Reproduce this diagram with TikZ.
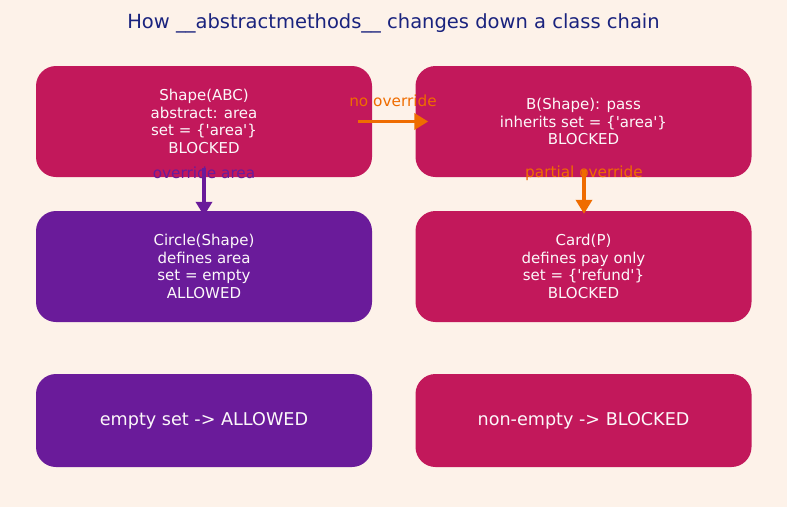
\documentclass[tikz,border=0pt]{standalone}
\usepackage{fontspec}
\setmainfont{DejaVu Sans}
\usetikzlibrary{arrows.meta}
\definecolor{bgc}{RGB}{253,242,233}
\definecolor{crim}{RGB}{194,24,91}
\definecolor{purp}{RGB}{106,27,154}
\definecolor{orng}{RGB}{239,108,0}
\definecolor{navy}{RGB}{26,35,126}
\definecolor{txtw}{RGB}{252,248,250}
\tikzset{
  box/.style={draw=none, rounded corners=20pt, minimum width=336pt, text=txtw, align=center, inner sep=0pt, font=\fontsize{15}{17.7}\selectfont},
  bigbox/.style={box, minimum height=93pt, font=\fontsize{17.6}{20}\selectfont},
  midbox/.style={box, minimum height=111pt},
  lbl/.style={font=\fontsize{15.3}{17}\selectfont, inner sep=0pt},
  arr/.style={line width=3.5pt, -{Triangle[length=14pt,width=16pt]}},
}
\begin{document}
\begin{tikzpicture}[x=1pt,y=-1pt]
\fill[bgc] (0,0) rectangle (787,507);
\useasboundingbox (0,0) rectangle (787,507);
\node[font=\fontsize{19.5}{22}\selectfont, text=navy] (title) at (393.5,23) {How \_\_abstractmethods\_\_ changes down a class chain};
\node[midbox, fill=crim] (b1) at (204,121.5) {Shape(ABC)\\abstract: area\\set = \{\textquotesingle area\textquotesingle\}\\BLOCKED};
\node[midbox, fill=crim] (b2) at (583.5,121.5) {B(Shape): pass\\inherits set = \{\textquotesingle area\textquotesingle\}\\BLOCKED};
\node[midbox, fill=purp] (b3) at (204,266.5) {Circle(Shape)\\defines area\\set = empty\\ALLOWED};
\node[midbox, fill=crim] (b4) at (583.5,266.5) {Card(P)\\defines pay only\\set = \{\textquotesingle refund\textquotesingle\}\\BLOCKED};
\node[bigbox, fill=purp] (b5) at (204,420.5) {empty set -> ALLOWED};
\node[bigbox, fill=crim] (b6) at (583.5,420.5) {non-empty -> BLOCKED};
\node[lbl, text=orng] (l1) at (393,101) {no override};
\node[lbl, text=purp] (l2) at (204,173) {override area};
\node[lbl, text=orng] (l3) at (584,173) {partial override};
\draw[arr, orng] ([xshift=-14pt]b1.east) -- ([xshift=13pt]b2.west);
\draw[arr, purp] ([yshift=9pt]b1.south) -- ([yshift=-5pt]b3.north);
\draw[arr, orng] ([xshift=0.5pt,yshift=7pt]b2.south) -- ([xshift=0.5pt,yshift=-3pt]b4.north);
\end{tikzpicture}
\end{document}
